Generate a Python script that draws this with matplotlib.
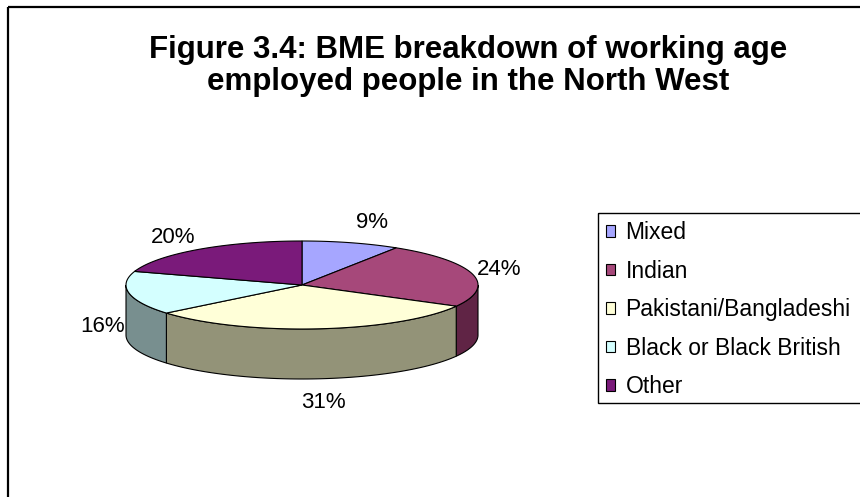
import numpy as np
import matplotlib
matplotlib.use("Agg")
import matplotlib.pyplot as plt
from matplotlib.patches import Polygon, Rectangle

plt.rcParams['font.family'] = ['Liberation Sans', 'DejaVu Sans']

# ---- data ----
categories = ["Mixed", "Indian", "Pakistani/Bangladeshi", "Black or Black British", "Other"]
values = [9, 24, 31, 16, 20]
top_colors = ["#A6A6FF", "#A6487A", "#FFFFD8", "#D4FFFF", "#7A1A7A"]
side_colors = ["#6F6FAA", "#602445", "#939378", "#788F8F", "#4A0F4A"]
title_lines = ["Figure 3.4: BME breakdown of working age",
               "employed people in the North West"]

W, H = 860, 497
fig = plt.figure(figsize=(W / 100, H / 100), dpi=100)
ax = fig.add_axes([0, 0, 1, 1])
ax.set_xlim(0, W)
ax.set_ylim(H, 0)
ax.axis('off')

# chart border (top and left visible)
ax.add_patch(Rectangle((8, 7), 900, 600, fill=False, edgecolor='black', lw=1.6, clip_on=False))

# pie geometry (pixel layout)
cx, cy = 302, 285
a, b = 176, 44
depth = 50

vals = np.array(values, dtype=float)
fr = vals / vals.sum()
ends = np.cumsum(fr) * 360.0
starts = ends - fr * 360.0


def pt(theta_deg, dz=0.0):
    t = np.radians(theta_deg)
    return cx + a * np.sin(t), cy - b * np.cos(t) + dz


# sides (front half: 90..270 degrees clockwise from top)
for s, e, sc in zip(starts, ends, side_colors):
    t1, t2 = max(s, 90.0), min(e, 270.0)
    if t2 <= t1:
        continue
    ts = np.linspace(t1, t2, 80)
    topx, topy = pt(ts)
    botx, boty = pt(ts[::-1], depth)
    xy = np.column_stack([np.concatenate([topx, botx]), np.concatenate([topy, boty])])
    ax.add_patch(Polygon(xy, closed=True, facecolor=sc, edgecolor='black', lw=0.8))

# top faces
for s, e, tc in zip(starts, ends, top_colors):
    ts = np.linspace(s, e, 120)
    x, y = pt(ts)
    xy = np.column_stack([np.concatenate([[cx], x]), np.concatenate([[cy], y])])
    ax.add_patch(Polygon(xy, closed=True, facecolor=tc, edgecolor='black', lw=0.8))

# percentage labels
d = 27
for s, e, v in zip(starts, ends, fr):
    m = (s + e) / 2
    ex, ey = pt(m)
    c = np.cos(np.radians(m))
    if c < 0:
        ey += depth * (-c) ** 0.3
    ux, uy = ex - cx, ey - cy
    n = np.hypot(ux, uy)
    ux, uy = ux / n, uy / n
    ax.text(ex + d * ux, ey + d * uy - 3, f"{v*100:.0f}%", ha='center', va='center', fontsize=16)

# title
for i, line in enumerate(title_lines):
    ax.text(468, 50 + 32 * i, line, ha='center', va='center', fontsize=22.5, fontweight='bold')

# legend (frame runs past the right edge of the picture)
handles = [Rectangle((0, 0), 1, 1, facecolor=c, edgecolor='black', lw=0.8) for c in top_colors]
leg = ax.legend(handles, categories, loc='upper left',
                bbox_to_anchor=(598 / W, 1 - 213 / H),
                bbox_transform=fig.transFigure,
                fontsize=16.5, frameon=False, borderaxespad=0,
                handlelength=0.4, handleheight=0.4, handletextpad=0.45,
                borderpad=0.35, labelspacing=0.68)
ax.add_patch(Rectangle((598, 213), 400, 190, fill=False, edgecolor='black', lw=1.0, clip_on=False))

fig.savefig("out.png", dpi=100)
